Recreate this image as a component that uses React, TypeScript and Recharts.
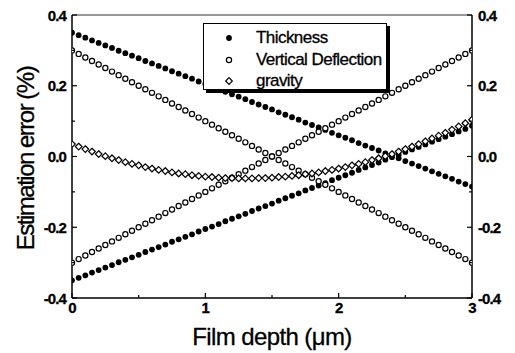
import React from 'react';
import { ScatterChart, Scatter, XAxis, YAxis, ReferenceLine } from 'recharts';

// film depth (um), sampled every 0.05
const DEPTH = [
  0, 0.05, 0.1, 0.15, 0.2, 0.25, 0.3, 0.35, 0.4, 0.45,
  0.5, 0.55, 0.6, 0.65, 0.7, 0.75, 0.8, 0.85, 0.9, 0.95,
  1.0, 1.05, 1.1, 1.15, 1.2, 1.25, 1.3, 1.35, 1.4, 1.45,
  1.5, 1.55, 1.6, 1.65, 1.7, 1.75, 1.8, 1.85, 1.9, 1.95,
  2.0, 2.05, 2.1, 2.15, 2.2, 2.25, 2.3, 2.35, 2.4, 2.45,
  2.5, 2.55, 2.6, 2.65, 2.7, 2.75, 2.8, 2.85, 2.9, 2.95, 3.0,
];

const THICKNESS_DOWN = [
  0.350, 0.343, 0.336, 0.328, 0.321, 0.314, 0.307, 0.299, 0.292, 0.285,
  0.278, 0.270, 0.263, 0.256, 0.249, 0.241, 0.234, 0.227, 0.220, 0.212,
  0.205, 0.198, 0.191, 0.183, 0.176, 0.169, 0.162, 0.154, 0.147, 0.140,
  0.133, 0.125, 0.118, 0.111, 0.104, 0.096, 0.089, 0.082, 0.075, 0.067,
  0.060, 0.053, 0.046, 0.038, 0.031, 0.024, 0.017, 0.009, 0.002, -0.005,
  -0.013, -0.020, -0.027, -0.034, -0.042, -0.049, -0.056, -0.063, -0.071, -0.078, -0.085,
];

const THICKNESS_UP = [
  -0.350, -0.343, -0.336, -0.328, -0.321, -0.314, -0.307, -0.299, -0.292, -0.285,
  -0.278, -0.270, -0.263, -0.256, -0.249, -0.241, -0.234, -0.227, -0.220, -0.212,
  -0.205, -0.198, -0.191, -0.183, -0.176, -0.169, -0.162, -0.154, -0.147, -0.140,
  -0.133, -0.125, -0.118, -0.111, -0.104, -0.096, -0.089, -0.082, -0.075, -0.067,
  -0.060, -0.053, -0.046, -0.038, -0.031, -0.024, -0.017, -0.009, -0.002, 0.005,
  0.013, 0.020, 0.027, 0.034, 0.042, 0.049, 0.056, 0.063, 0.071, 0.078, 0.087,
];

const DEFLECTION_DOWN = [
  0.30, 0.29, 0.28, 0.27, 0.26, 0.25, 0.24, 0.23, 0.22, 0.21,
  0.20, 0.19, 0.18, 0.17, 0.16, 0.15, 0.14, 0.13, 0.12, 0.11,
  0.10, 0.09, 0.08, 0.07, 0.06, 0.05, 0.04, 0.03, 0.02, 0.01,
  0.00, -0.01, -0.02, -0.03, -0.04, -0.05, -0.06, -0.07, -0.08, -0.09,
  -0.10, -0.11, -0.12, -0.13, -0.14, -0.15, -0.16, -0.17, -0.18, -0.19,
  -0.20, -0.21, -0.22, -0.23, -0.24, -0.25, -0.26, -0.27, -0.28, -0.29, -0.30,
];

const DEFLECTION_UP = [
  -0.30, -0.29, -0.28, -0.27, -0.26, -0.25, -0.24, -0.23, -0.22, -0.21,
  -0.20, -0.19, -0.18, -0.17, -0.16, -0.15, -0.14, -0.13, -0.12, -0.11,
  -0.10, -0.09, -0.08, -0.07, -0.06, -0.05, -0.04, -0.03, -0.02, -0.01,
  0.00, 0.01, 0.02, 0.03, 0.04, 0.05, 0.06, 0.07, 0.08, 0.09,
  0.10, 0.11, 0.12, 0.13, 0.14, 0.15, 0.16, 0.17, 0.18, 0.19,
  0.20, 0.21, 0.22, 0.23, 0.24, 0.25, 0.26, 0.27, 0.28, 0.29, 0.30,
];

const GRAVITY = [
  0.035, 0.028, 0.021, 0.014, 0.007, 0.001, -0.005, -0.010, -0.016, -0.021,
  -0.025, -0.030, -0.034, -0.038, -0.041, -0.045, -0.048, -0.050, -0.053, -0.055,
  -0.057, -0.058, -0.060, -0.061, -0.061, -0.062, -0.062, -0.062, -0.061, -0.061,
  -0.060, -0.058, -0.057, -0.055, -0.053, -0.050, -0.048, -0.045, -0.041, -0.038,
  -0.034, -0.030, -0.025, -0.021, -0.016, -0.010, -0.005, 0.001, 0.007, 0.014,
  0.021, 0.028, 0.035, 0.043, 0.051, 0.059, 0.067, 0.076, 0.085, 0.094, 0.104,
];

const X_TICKS = [0, 0.5, 1, 1.5, 2, 2.5, 3];
const Y_TICKS = [-0.4, -0.3, -0.2, -0.1, 0, 0.1, 0.2, 0.3, 0.4];

const LEGEND = ['Thickness', 'Vertical Deflection', 'gravity'];

const FONT = '"Liberation Sans", Arial, sans-serif';
const TICK_MARGIN = 6;

const toPoints = (ys: number[]) => DEPTH.map((x, i) => ({ x, y: ys[i] }));

const filledDot = (p: any) => <circle cx={p.cx} cy={p.cy} r={2.9} fill="#000" />;
const openDot = (p: any) => (
  <circle cx={p.cx} cy={p.cy} r={2.6} fill="#fff" stroke="#000" strokeWidth={1.2} />
);
const diamond = (p: any) => {
  const s = 3.3;
  return (
    <polygon
      points={`${p.cx},${p.cy - s} ${p.cx + s},${p.cy} ${p.cx},${p.cy + s} ${p.cx - s},${p.cy}`}
      fill="#fff"
      stroke="#000"
      strokeWidth={1.2}
    />
  );
};

const tickText = {
  fontFamily: FONT, fontSize: 15, fontWeight: 700, letterSpacing: -0.9, fill: '#000',
  stroke: '#000', strokeWidth: 0.3,
};

const titleText = {
  fontFamily: FONT, fontSize: 24, fill: '#000', stroke: '#000', strokeWidth: 0.3,
};

const isMajorY = (v: number) => Math.round(v * 10) % 2 === 0;

const LeftTick = (props: any) => {
  const { x, y, payload } = props;
  const ax = x + TICK_MARGIN;
  const major = isMajorY(payload.value);
  return (
    <g>
      <line x1={ax} x2={ax + (major ? 5 : 3)} y1={y} y2={y} stroke="#000" strokeWidth={1.2} />
      {major && (
        <text x={x} y={y} textAnchor="end" dominantBaseline="central" style={tickText}>
          {payload.value.toFixed(1)}
        </text>
      )}
    </g>
  );
};

const RightTick = (props: any) => {
  const { x, y, payload } = props;
  const ax = x - TICK_MARGIN;
  const major = isMajorY(payload.value);
  return (
    <g>
      <line x1={ax} x2={ax - (major ? 5 : 3)} y1={y} y2={y} stroke="#000" strokeWidth={1.2} />
      {major && (
        <text x={x} y={y} textAnchor="start" dominantBaseline="central" style={tickText}>
          {payload.value.toFixed(1)}
        </text>
      )}
    </g>
  );
};

const BottomTick = (props: any) => {
  const { x, y, payload } = props;
  const ay = y - 2;
  const major = Number.isInteger(payload.value);
  return (
    <g>
      <line x1={x} x2={x} y1={ay} y2={ay - (major ? 5 : 3)} stroke="#000" strokeWidth={1.2} />
      {major && (
        <text x={x} y={ay + 9} textAnchor="middle" dominantBaseline="central" style={tickText}>
          {payload.value}
        </text>
      )}
    </g>
  );
};

const YTitle = (props: any) => {
  const vb = props.viewBox;
  const cx = 25;
  const cy = vb.y + vb.height / 2 + 2;
  return (
    <text
      x={cx}
      y={cy}
      transform={`rotate(-90 ${cx} ${cy})`}
      textAnchor="middle"
      dominantBaseline="central"
      style={{ ...titleText, letterSpacing: -1.5 }}
    >
      Estimation error (%)
    </text>
  );
};

const XTitle = (props: any) => {
  const vb = props.viewBox;
  return (
    <text
      x={vb.x + vb.width / 2}
      y={336}
      textAnchor="middle"
      dominantBaseline="central"
      style={{ ...titleText, letterSpacing: -0.6 }}
    >
      Film depth (μm)
    </text>
  );
};

const markers = [filledDot, openDot, diamond];

export default function App() {
  return (
    <div style={{ position: 'absolute', left: 0, top: 0, width: 515, height: 353, background: '#fff' }}>
      <ScatterChart width={515} height={353} margin={{ top: 15, right: 0, bottom: 0, left: 0 }}>
        <XAxis
          type="number"
          dataKey="x"
          domain={[0, 3]}
          ticks={X_TICKS}
          tickSize={0}
          tickMargin={2}
          height={55}
          axisLine={{ stroke: '#000', strokeWidth: 1.5 }}
          tickLine={false}
          tick={<BottomTick />}
          interval={0}
          allowDataOverflow
          label={<XTitle />}
        />
        <YAxis
          yAxisId="left"
          type="number"
          dataKey="y"
          domain={[-0.4, 0.4]}
          ticks={Y_TICKS}
          width={72}
          tickSize={0}
          tickMargin={TICK_MARGIN}
          axisLine={{ stroke: '#000', strokeWidth: 1.5 }}
          tickLine={false}
          tick={<LeftTick />}
          interval={0}
          allowDataOverflow
          label={<YTitle />}
        />
        <YAxis
          yAxisId="right"
          orientation="right"
          type="number"
          dataKey="y"
          domain={[-0.4, 0.4]}
          ticks={Y_TICKS}
          width={43}
          tickSize={0}
          tickMargin={TICK_MARGIN}
          axisLine={{ stroke: '#000', strokeWidth: 1.5 }}
          tickLine={false}
          tick={<RightTick />}
          interval={0}
          allowDataOverflow
        />
        <ReferenceLine yAxisId="left" y={0.4} stroke="#333" strokeWidth={1} />
        <Scatter yAxisId="left" name="Thickness" data={toPoints(THICKNESS_DOWN)} shape={filledDot} isAnimationActive={false} />
        <Scatter yAxisId="left" name="Thickness" data={toPoints(THICKNESS_UP)} shape={filledDot} isAnimationActive={false} />
        <Scatter yAxisId="left" name="Vertical Deflection" data={toPoints(DEFLECTION_DOWN)} shape={openDot} isAnimationActive={false} />
        <Scatter yAxisId="left" name="Vertical Deflection" data={toPoints(DEFLECTION_UP)} shape={openDot} isAnimationActive={false} />
        <Scatter yAxisId="left" name="gravity" data={toPoints(GRAVITY)} shape={diamond} isAnimationActive={false} />
      </ScatterChart>
      <div
        style={{
          position: 'absolute',
          left: 203,
          top: 23,
          width: 182,
          height: 65,
          border: '1.5px solid #000',
          boxShadow: '3px 3px 0 #000',
          background: '#fff',
        }}
      >
        {LEGEND.map((name, i) => (
          <div key={name} style={{ position: 'absolute', left: 0, top: 4 + i * 21.5, height: 20, display: 'flex', alignItems: 'center' }}>
            <svg width={52} height={20} style={{ display: 'block' }}>
              {markers[i]({ cx: 25, cy: 10 })}
            </svg>
            <span
              style={{
                fontFamily: FONT,
                fontSize: 17,
                letterSpacing: -0.55,
                color: '#000',
                lineHeight: '20px',
                WebkitTextStroke: '0.3px #000',
                whiteSpace: 'nowrap',
              }}
            >
              {name}
            </span>
          </div>
        ))}
      </div>
    </div>
  );
}
